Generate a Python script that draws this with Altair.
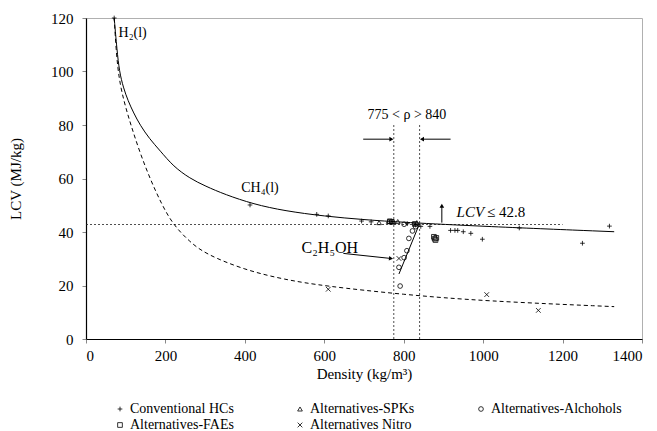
import altair as alt
import pandas as pd

FONT = "Liberation Serif, Times New Roman, serif"

# ---------------- data ----------------
series = ["Conventional HCs", "Alternatives-SPKs", "Alternatives-Alchohols",
          "Alternatives-FAEs", "Alternatives Nitro"]

conv_x = [71, 413, 581, 610, 694, 718, 809, 826, 830, 843, 866, 918, 929, 936,
          950, 969, 998, 1091, 1250, 1318]
conv_y = [120, 50.1, 46.6, 46.0, 44.1, 43.8, 43.1, 43.0, 42.6, 42.1, 42.1, 40.6,
          40.6, 40.6, 40.1, 39.5, 37.3, 41.5, 35.8, 42.2]

spk_x = [738, 762, 768, 774, 785, 833]
spk_y = [43.5, 44.0, 43.9, 43.9, 43.9, 43.5]

alc_x = [801, 822, 813, 808, 801, 788, 791, 830]
alc_y = [42.9, 40.4, 37.6, 33.0, 30.4, 26.8, 19.8, 42.0]

fae_x = [765, 770, 828, 876, 878, 880, 882]
fae_y = [44.0, 43.8, 43.0, 38.2, 37.5, 37.0, 37.8]

nitro_x = [610, 788, 1009, 1139]
nitro_y = [18.6, 30.1, 16.6, 10.7]

# fitted curves as drawn in the picture
solid_x = [71, 78, 84, 94, 106, 120, 136, 160, 186, 220, 262, 300, 350, 422,
           500, 600, 700, 800, 1000, 1330]
solid_y = [120, 108, 100, 94, 89, 84.5, 80, 74.8, 70.5, 64.5, 60, 57.2, 54,
           50.4, 47.9, 45.9, 44.6, 43.6, 42.1, 40.1]

dash_x = [71, 79, 95, 113, 135, 161, 190, 219, 260, 300, 400, 500, 600, 800,
          1000, 1330]
dash_y = [120, 100, 89, 80, 70, 60, 50.5, 42.8, 36.5, 31.8, 25.8, 22.2, 19.8,
          16.6, 14.2, 12.1]

# alcohol trend segment
alc_fit_x = [788, 840]
alc_fit_y = [24.3, 43.2]

# limits
lcv_limit = 42.8
rho_low, rho_high = 775, 840

x_ticks = [0, 200, 400, 600, 800, 1000, 1200, 1400]
y_ticks = [0, 20, 40, 60, 80, 100, 120]

# ---------------- tables ----------------
rows = []
for name, xs, ys in zip(series, [conv_x, spk_x, alc_x, fae_x, nitro_x],
                        [conv_y, spk_y, alc_y, fae_y, nitro_y]):
    rows += [{"density": a, "lcv": b, "type": name} for a, b in zip(xs, ys)]
pts = pd.DataFrame(rows)

solid = pd.DataFrame({"density": solid_x, "lcv": solid_y})
dash = pd.DataFrame({"density": dash_x, "lcv": dash_y})
alcfit = pd.DataFrame({"density": alc_fit_x, "lcv": alc_fit_y})

PLUS = "M-1,0L1,0M0,-1L0,1"
CROSS = "M-1,-1L1,1M-1,1L1,-1"

x_scale = alt.Scale(domain=[0, 1400], nice=False, zero=False)
y_scale = alt.Scale(domain=[0, 120], nice=False, zero=False)


def X(field="density"):
    return alt.X(f"{field}:Q", scale=x_scale, title="Density (kg/m³)",
                 axis=alt.Axis(values=x_ticks, format="d", titlePadding=3, labelPadding=5))


def Y(field="lcv"):
    return alt.Y(f"{field}:Q", scale=y_scale, title="LCV (MJ/kg)",
                 axis=alt.Axis(values=y_ticks, format="d", titlePadding=27, labelPadding=9))


base_line = dict(color="black", strokeWidth=1)

l_solid = alt.Chart(solid).mark_line(interpolate="basis", **base_line).encode(x=X(), y=Y())
l_dash = alt.Chart(dash).mark_line(interpolate="basis", strokeDash=[4, 3], **base_line).encode(x=X(), y=Y())
l_alc = alt.Chart(alcfit).mark_line(**base_line).encode(x=X(), y=Y())

# reference lines
hline = pd.DataFrame({"density": [0], "density2": [1200], "lcv": [lcv_limit]})
r_h = alt.Chart(hline).mark_rule(color="#222", strokeWidth=0.8, strokeDash=[2, 2]).encode(
    x=X(), x2="density2:Q", y=Y())
vlines = pd.DataFrame({"density": [rho_low, rho_high], "lcv": [0, 0], "lcv2": [80, 80]})
r_v = alt.Chart(vlines).mark_rule(color="#222", strokeWidth=0.8, strokeDash=[2, 2]).encode(
    x=X(), y=Y(), y2="lcv2:Q")

# arrows (shafts)
arrows = pd.DataFrame({
    "density": [698, 918, 896, 648],
    "density2": [770, 845, 896, 768],
    "lcv": [74.7, 74.7, 43.5, 32.0],
    "lcv2": [74.7, 74.7, 49.5, 30.1],
})
r_arr = alt.Chart(arrows).mark_rule(color="black", strokeWidth=1).encode(
    x=X(), x2="density2:Q", y=Y(), y2="lcv2:Q")

head_r = pd.DataFrame({"density": [769], "lcv": [74.7]})
head_l = pd.DataFrame({"density": [846], "lcv": [74.7]})
head_u = pd.DataFrame({"density": [896], "lcv": [49.8]})
head_c = pd.DataFrame({"density": [768], "lcv": [30.1]})
hr = alt.Chart(head_r).mark_point(shape="triangle-right", filled=True, color="black", size=22, opacity=1).encode(x=X(), y=Y())
hl = alt.Chart(head_l).mark_point(shape="triangle-left", filled=True, color="black", size=22, opacity=1).encode(x=X(), y=Y())
hu = alt.Chart(head_u).mark_point(shape="triangle-up", filled=True, color="black", size=22, opacity=1).encode(x=X(), y=Y())
hc = alt.Chart(head_c).mark_point(shape="triangle-right", filled=True, color="black", size=22, angle=6, opacity=1).encode(x=X(), y=Y())

# labels
labels = pd.DataFrame({
    "density": [82, 438, 614, 808],
    "lcv": [114.4, 56.4, 34.0, 83.7],
    "text": ["H₂(l)", "CH₄(l)", "C₂H₅OH", "775 < ρ > 840"],
})
t_left = alt.Chart(labels.iloc[[0]]).mark_text(font=FONT, fontSize=14, align="left", baseline="middle", color="black").encode(
    x=X(), y=Y(), text="text:N")
t_center = alt.Chart(labels.iloc[[1, 3]]).mark_text(font=FONT, fontSize=14, align="center", baseline="middle", color="black").encode(
    x=X(), y=Y(), text="text:N")
t_c2 = alt.Chart(labels.iloc[[2]]).mark_text(font=FONT, fontSize=16, align="center", baseline="middle", color="black").encode(
    x=X(), y=Y(), text="text:N")

lcv_lab1 = pd.DataFrame({"density": [933], "lcv": [47.6], "text": ["LCV"]})
lcv_lab2 = pd.DataFrame({"density": [1010], "lcv": [47.6], "text": ["≤ 42.8"]})
t_lcv1 = alt.Chart(lcv_lab1).mark_text(font=FONT, fontSize=15, fontStyle="italic", align="left", baseline="middle", color="black").encode(
    x=X(), y=Y(), text="text:N")
t_lcv2 = alt.Chart(lcv_lab2).mark_text(font=FONT, fontSize=15, align="left", baseline="middle", color="black").encode(
    x=X(), y=Y(), text="text:N")

points = alt.Chart(pts).mark_point(filled=False, color="black", strokeWidth=0.8, size=22, opacity=1).encode(
    x=X(), y=Y(),
    shape=alt.Shape("type:N",
                    scale=alt.Scale(domain=series, range=[PLUS, "triangle-up", "circle", "square", CROSS]),
                    legend=alt.Legend(orient="none", legendX=27, legendY=384, columns=3, title=None,
                                      direction="horizontal",
                                      labelFont=FONT, labelFontSize=14, labelColor="black",
                                      symbolSize=22, symbolStrokeWidth=0.8, symbolStrokeColor="black",
                                      symbolFillColor="transparent",
                                      labelOffset=3, columnPadding=59, rowPadding=2,
                                      labelLimit=300)),
)

chart = alt.layer(
    r_h, r_v, l_solid, l_dash, l_alc, r_arr, hr, hl, hu, hc,
    t_left, t_center, t_c2, t_lcv1, t_lcv2, points,
).properties(
    width=556, height=321,
    autosize=alt.AutoSizeParams(type="none"),
    padding={"left": 86, "top": 18, "right": 15, "bottom": 92},
).configure_view(
    stroke="#b0b0b0", strokeWidth=1
).configure_axis(
    grid=False, domainColor="black", domainWidth=1.2, tickColor="#888", tickSize=4,
    labelFont=FONT, labelFontSize=15, labelColor="black",
    titleFont=FONT, titleFontSize=15, titleFontWeight="normal", titleColor="black",
)

chart.save("out.html", embed_options={"renderer": "svg", "actions": False})
